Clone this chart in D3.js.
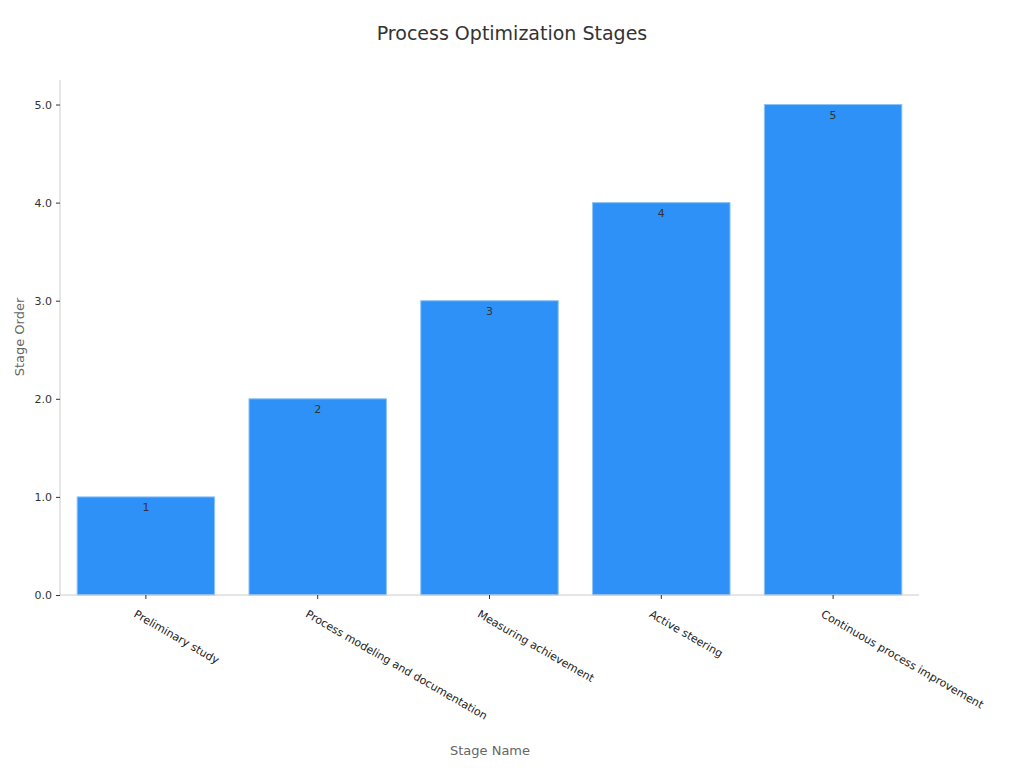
<!DOCTYPE html>
<html><head><meta charset="utf-8">
<script src="https://cdn.jsdelivr.net/npm/d3@7"></script>
<style>body{margin:0;background:#fff;font-family:"DejaVu Sans",sans-serif}</style>
</head><body><svg id="c" width="1024" height="768"></svg>
<script>
var stages = ["Preliminary study","Process modeling and documentation","Measuring achievement","Active steering","Continuous process improvement"];
var orders = [1,2,3,4,5];
var yTicks = [0,1,2,3,4,5];

var svg = d3.select("#c");
var m = {l:60, r:919, t:80, b:595};

var x = d3.scaleBand().domain(stages).range([m.l, m.r]).paddingInner(0.2).paddingOuter(0.1);
var y = d3.scaleLinear().domain([0,5.25]).range([m.b, m.t]);

svg.append("text").attr("x",512).attr("y",40).attr("text-anchor","middle")
  .attr("font-size",19).attr("fill","#333").text("Process Optimization Stages");

// bars
svg.selectAll("rect.bar").data(stages).join("rect")
  .attr("x", d => x(d)).attr("width", x.bandwidth())
  .attr("y", (d,i) => y(orders[i])).attr("height", (d,i) => y(0)-y(orders[i]))
  .attr("fill","#2e91f7").attr("stroke","#8cc2f5").attr("stroke-width",1);

svg.selectAll("text.val").data(stages).join("text")
  .attr("x", d => x(d)+x.bandwidth()/2).attr("y", (d,i) => y(orders[i])+14)
  .attr("text-anchor","middle").attr("font-size",11).attr("fill","#333")
  .text((d,i) => orders[i]);

// y axis
var ya = svg.append("g").attr("transform","translate("+m.l+",0)")
  .call(d3.axisLeft(y).tickValues(yTicks).tickSize(4).tickPadding(4));
ya.select(".domain").attr("stroke","#ccc").attr("d","M0,"+m.t+"V"+m.b);
ya.selectAll(".tick line").attr("stroke","#333");
ya.selectAll("text").attr("font-size",11).attr("fill","#333").attr("font-family","DejaVu Sans");

// x axis
var xa = svg.append("g").attr("transform","translate(0,"+m.b+")")
  .call(d3.axisBottom(x).tickSize(4).tickPadding(6));
xa.select(".domain").attr("stroke","#ccc").attr("d","M"+m.l+",0H"+m.r);
xa.selectAll(".tick line").attr("stroke","#333");
xa.selectAll("text").attr("font-size",11).attr("fill","#222").attr("font-family","DejaVu Sans")
  .attr("text-anchor","start").attr("dy","0.7em")
  .attr("transform","translate(-4,6) rotate(30)");

svg.append("text").attr("x",490).attr("y",755).attr("text-anchor","middle")
  .attr("font-size",13).attr("fill","#666").text("Stage Name");
svg.append("text").attr("transform","translate(24,337) rotate(-90)").attr("text-anchor","middle")
  .attr("font-size",13).attr("fill","#666").text("Stage Order");
</script></body></html>
